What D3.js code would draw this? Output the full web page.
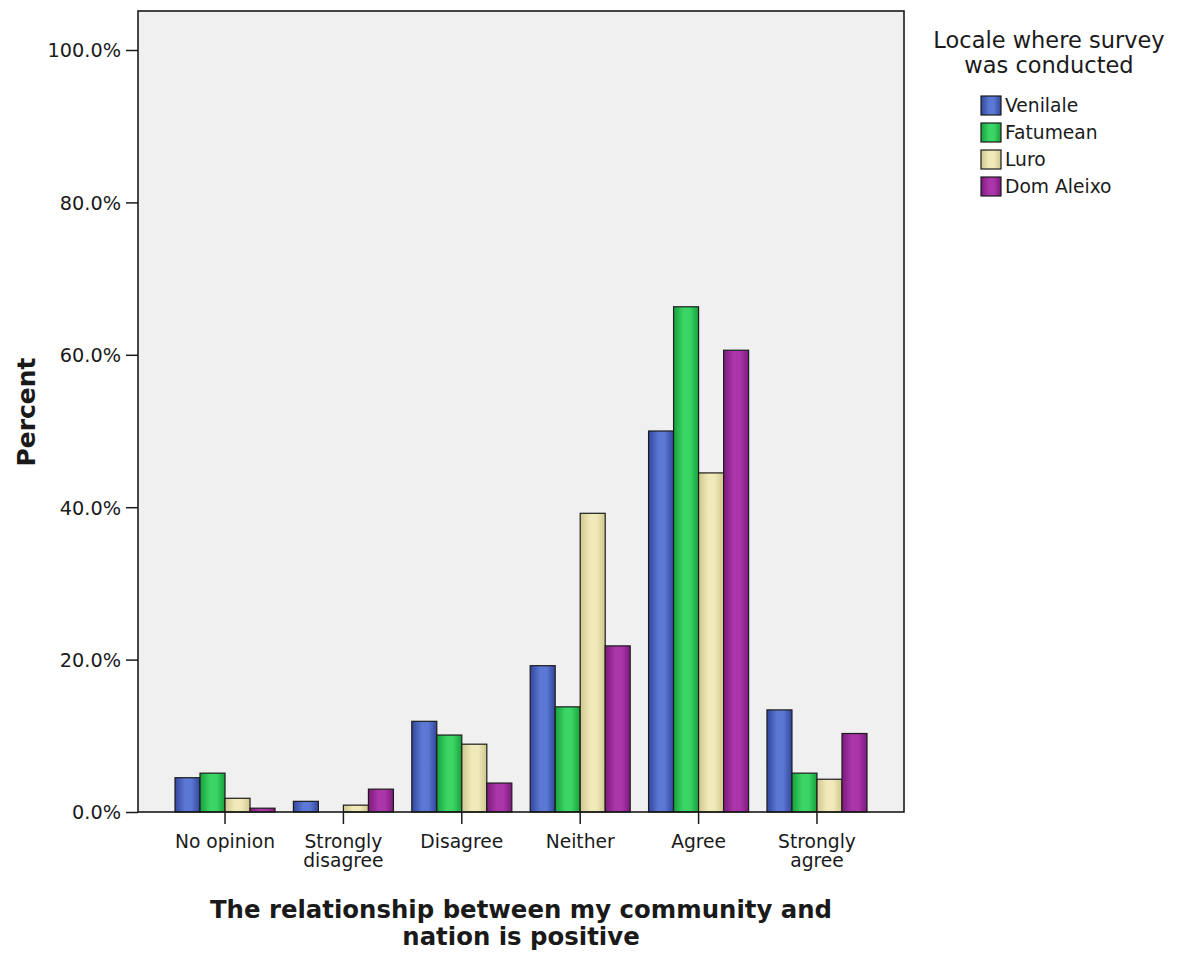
<!DOCTYPE html>
<html><head><meta charset="utf-8">
<script src="https://cdn.jsdelivr.net/npm/d3@7"></script>
<style>
html,body{margin:0;padding:0;background:#fff;}
text{font-family:"DejaVu Sans",Verdana,sans-serif;fill:#1a1a1a;}
</style></head>
<body>
<svg id="chart" width="1179" height="958"></svg>
<script>
const categories = ["No opinion", "Strongly disagree", "Disagree", "Neither", "Agree", "Strongly agree"];
const categoryLines = [["No opinion"], ["Strongly", "disagree"], ["Disagree"], ["Neither"], ["Agree"], ["Strongly", "agree"]];
const series = ["Venilale", "Fatumean", "Luro", "Dom Aleixo"];
const venilale  = [4.5, 1.4, 11.9, 19.2, 50.0, 13.4];
const fatumean  = [5.1, 0.0, 10.1, 13.8, 66.3, 5.1];
const luro      = [1.8, 0.9, 8.9, 39.2, 44.5, 4.3];
const domAleixo = [0.5, 3.0, 3.8, 21.8, 60.6, 10.3];
const yTicks = [0, 20, 40, 60, 80, 100];
const colors = [
  {edge:"#33469a", mid:"#5a78d4"},
  {edge:"#17a03c", mid:"#3bd566"},
  {edge:"#cfc78c", mid:"#f0eabb"},
  {edge:"#7c1a7c", mid:"#ab36aa"}
];
const values = [venilale, fatumean, luro, domAleixo];

const svg = d3.select("#chart");
const pLeft = 138, pRight = 904, pTop = 11, pBottom = 812;

const x = d3.scaleBand().domain(categories).range([pLeft, pRight]).paddingInner(0.155).paddingOuter(0.3125);
const xs = d3.scaleBand().domain(series).range([0, x.bandwidth()]).padding(0);
const y = d3.scaleLinear().domain([0, 100]).range([pBottom, 50]);

// gradients
const defs = svg.append("defs");
colors.forEach((c, i) => {
  const g = defs.append("linearGradient").attr("id", "g" + i).attr("x1", "0%").attr("x2", "100%").attr("y1", "0%").attr("y2", "0%");
  g.append("stop").attr("offset", "0%").attr("stop-color", c.edge);
  g.append("stop").attr("offset", "40%").attr("stop-color", c.mid);
  g.append("stop").attr("offset", "65%").attr("stop-color", c.mid);
  g.append("stop").attr("offset", "100%").attr("stop-color", c.edge);
});

// plot background
svg.append("rect").attr("x", pLeft).attr("y", pTop).attr("width", pRight - pLeft).attr("height", pBottom - pTop)
  .attr("fill", "#f0f0f0");

// bars
const data = [];
categories.forEach((cat, ci) => series.forEach((s, si) => {
  if (values[si][ci] > 0) data.push({cat, s, si, v: values[si][ci]});
}));
svg.append("g").selectAll("rect").data(data).join("rect")
  .attr("x", d => x(d.cat) + xs(d.s))
  .attr("y", d => y(d.v))
  .attr("width", xs.bandwidth())
  .attr("height", d => y(0) - y(d.v))
  .attr("fill", d => `url(#g${d.si})`)
  .attr("stroke", "#1c1c1c").attr("stroke-width", 1.2);

// frame
svg.append("rect").attr("x", pLeft).attr("y", pTop).attr("width", pRight - pLeft).attr("height", pBottom - pTop)
  .attr("fill", "none").attr("stroke", "#1a1a1a").attr("stroke-width", 1.6);

// y axis
const yAxis = svg.append("g").attr("transform", `translate(${pLeft},0)`)
  .call(d3.axisLeft(y).tickValues(yTicks).tickFormat(d => d.toFixed(1) + "%").tickSize(12).tickPadding(5));
yAxis.select(".domain").remove();
yAxis.selectAll(".tick line").attr("stroke", "#1a1a1a").attr("stroke-width", 1.5);
yAxis.selectAll(".tick text").style("font-size", "19.3px").style("font-family", "DejaVu Sans").attr("fill", "#1a1a1a").attr("dy", "0.36em");

// x axis
const xAxis = svg.append("g").attr("transform", `translate(0,${pBottom})`)
  .call(d3.axisBottom(x).tickSize(12).tickFormat(""));
xAxis.select(".domain").remove();
xAxis.selectAll(".tick line").attr("stroke", "#1a1a1a").attr("stroke-width", 1.5);
xAxis.selectAll(".tick text").remove();
xAxis.selectAll(".tick").each(function(d, i) {
  const t = d3.select(this).append("text").attr("text-anchor", "middle").attr("fill", "#1a1a1a")
    .style("font-size", "18.7px");
  categoryLines[i].forEach((ln, k) => t.append("tspan").attr("x", 0).attr("y", 36 + k * 19).text(ln));
});

// axis titles
svg.append("text").attr("transform", "translate(35,412) rotate(-90)").attr("text-anchor", "middle")
  .style("font-size", "25px").style("font-weight", "bold").text("Percent");
const xt = svg.append("text").attr("text-anchor", "middle").style("font-size", "24.4px").style("font-weight", "bold");
xt.append("tspan").attr("x", (pLeft + pRight) / 2).attr("y", 918).text("The relationship between my community and");
xt.append("tspan").attr("x", (pLeft + pRight) / 2).attr("y", 945).text("nation is positive");

// legend
const lg = svg.append("g");
const lt = lg.append("text").attr("text-anchor", "middle").style("font-size", "22.5px");
lt.append("tspan").attr("x", 1049).attr("y", 48).text("Locale where survey");
lt.append("tspan").attr("x", 1049).attr("y", 73).text("was conducted");
series.forEach((s, i) => {
  const yy = 96 + i * 27;
  lg.append("rect").attr("x", 981).attr("y", yy).attr("width", 20).attr("height", 19)
    .attr("fill", `url(#g${i})`).attr("stroke", "#1c1c1c").attr("stroke-width", 1.2);
  lg.append("text").attr("x", 1005).attr("y", yy + 16).style("font-size", "18.7px").text(s);
});
</script>
</body></html>
